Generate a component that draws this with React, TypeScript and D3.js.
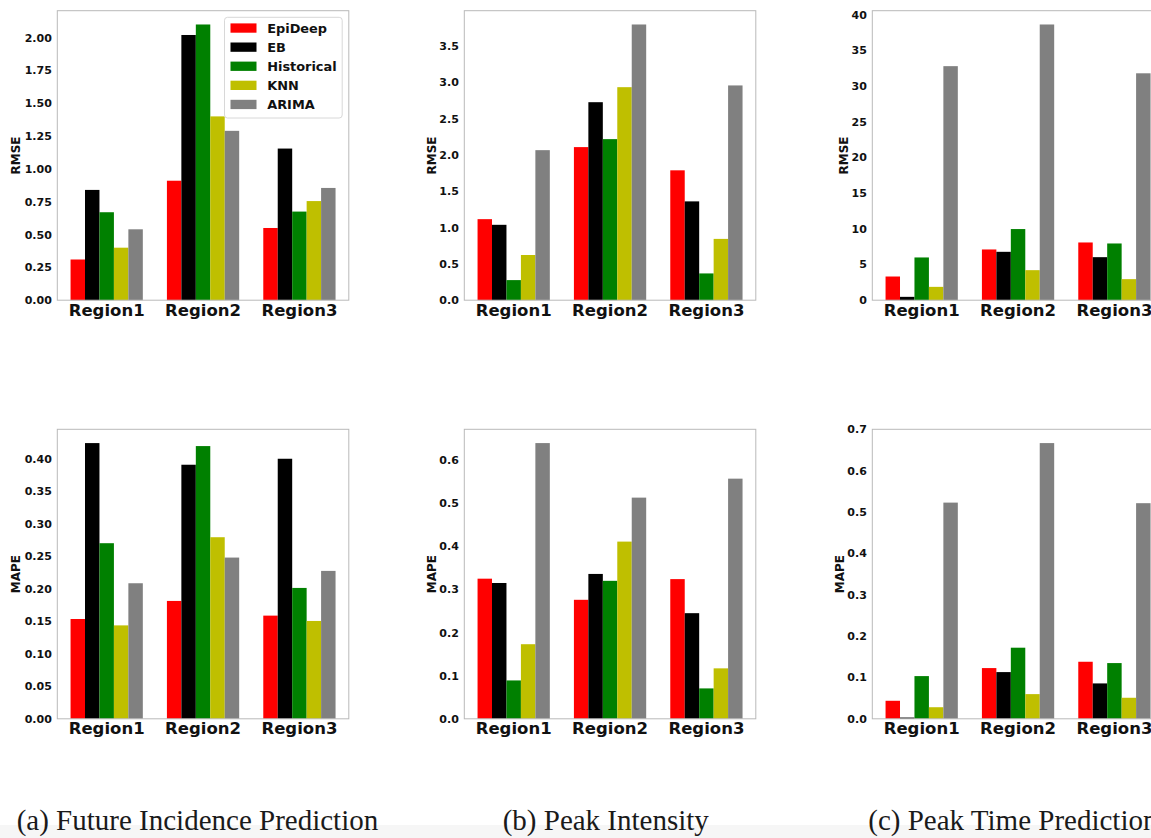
import { useEffect, useRef } from "react";
import * as d3 from "d3";

const methods = ["EpiDeep", "EB", "Historical", "KNN", "ARIMA"];
const methodColors = ["#ff0000", "#000000", "#008000", "#bfbf00", "#808080"];
const regions = ["Region1", "Region2", "Region3"];

// one row per region, columns follow `methods`
const incidenceRmse = [
  [0.31, 0.84, 0.67, 0.4, 0.54],
  [0.91, 2.02, 2.1, 1.4, 1.29],
  [0.55, 1.155, 0.675, 0.755, 0.855],
];
const intensityRmse = [
  [1.117, 1.039, 0.277, 0.623, 2.068],
  [2.11, 2.729, 2.22, 2.936, 3.8],
  [1.79, 1.362, 0.369, 0.845, 2.96],
];
const peakTimeRmse = [
  [3.32, 0.47, 5.99, 1.87, 32.8],
  [7.11, 6.78, 9.97, 4.21, 38.64],
  [8.09, 6.03, 7.95, 2.95, 31.8],
];
const incidenceMape = [
  [0.1535, 0.4241, 0.2701, 0.1437, 0.2085],
  [0.1813, 0.3908, 0.4195, 0.2793, 0.248],
  [0.1587, 0.4, 0.2013, 0.1505, 0.2275],
];
const intensityMape = [
  [0.325, 0.315, 0.089, 0.173, 0.6395],
  [0.276, 0.336, 0.32, 0.411, 0.513],
  [0.324, 0.245, 0.0705, 0.117, 0.557],
];
const peakTimeMape = [
  [0.0436, 0.003, 0.1033, 0.028, 0.523],
  [0.1227, 0.113, 0.172, 0.0597, 0.667],
  [0.138, 0.0856, 0.1348, 0.0509, 0.5216],
];

const captions = [
  "(a) Future Incidence Prediction",
  "(b) Peak Intensity",
  "(c) Peak Time Prediction",
];

const W = 1151;
const H = 838;
const FONT = "'DejaVu Sans', sans-serif";

const colLeft = [57.3, 464.3, 872.3];
const rowTop = [10.7, 429.3];
const axW = 291.5;
const axH = 289.5;
const barW = 0.15;

interface Panel {
  data: number[][];
  label: string;
  step: number;
  fmt: string;
  col: number;
  row: number;
  labelOffset: number;
  legend?: boolean;
}

const panels: Panel[] = [
  { data: incidenceRmse, label: "RMSE", step: 0.25, fmt: ".2f", col: 0, row: 0, labelOffset: 42, legend: true },
  { data: intensityRmse, label: "RMSE", step: 0.5, fmt: ".1f", col: 1, row: 0, labelOffset: 32.6 },
  { data: peakTimeRmse, label: "RMSE", step: 5, fmt: "d", col: 2, row: 0, labelOffset: 28.3 },
  { data: incidenceMape, label: "MAPE", step: 0.05, fmt: ".2f", col: 0, row: 1, labelOffset: 42 },
  { data: intensityMape, label: "MAPE", step: 0.1, fmt: ".1f", col: 1, row: 1, labelOffset: 32.6 },
  { data: peakTimeMape, label: "MAPE", step: 0.1, fmt: ".1f", col: 2, row: 1, labelOffset: 32.3 },
];

const App = () => {
  const ref = useRef<SVGSVGElement>(null);

  useEffect(() => {
    if (!ref.current) return;
    const svg = d3.select(ref.current);
    svg.selectAll("*").remove();

    svg.append("rect").attr("width", W).attr("height", H).attr("fill", "#fff");
    svg
      .append("rect")
      .attr("y", 825)
      .attr("width", W)
      .attr("height", H - 825)
      .attr("fill", "#f6f6f6");

    // matplotlib-style x limits: data span plus 5% margin on each side
    const lo = -barW / 2;
    const hi = regions.length - 1 + (methods.length - 1) * barW + barW / 2;
    const pad = (hi - lo) * 0.05;

    panels.forEach((p) => {
      const left = colLeft[p.col];
      const top = rowTop[p.row];
      const g = svg.append("g");

      const x = d3
        .scaleLinear()
        .domain([lo - pad, hi + pad])
        .range([left, left + axW]);
      const yMax = (d3.max(p.data.flat()) as number) * 1.05;
      const y = d3.scaleLinear().domain([0, yMax]).range([top + axH, top]);

      const bw = x(barW) - x(0);
      p.data.forEach((vals, r) => {
        g.selectAll(null)
          .data(vals)
          .enter()
          .append("rect")
          .attr("x", (_d, j) => x(r + j * barW - barW / 2))
          .attr("y", (d) => y(d))
          .attr("width", bw)
          .attr("height", (d) => y(0) - y(d))
          .attr("fill", (_d, j) => methodColors[j]);
      });

      g.append("rect")
        .attr("x", left)
        .attr("y", top)
        .attr("width", axW)
        .attr("height", axH)
        .attr("fill", "none")
        .attr("stroke", "#b9b9b9")
        .attr("stroke-width", 1);

      const n = Math.floor(yMax / p.step + 1e-6);
      const ticks = d3.range(0, n + 1).map((i) => i * p.step);
      const fmt = d3.format(p.fmt);
      g.selectAll(null)
        .data(ticks)
        .enter()
        .append("text")
        .attr("x", left - 5.5)
        .attr("y", (d) => y(d))
        .attr("dy", "0.36em")
        .attr("text-anchor", "end")
        .attr("font-family", FONT)
        .attr("font-weight", "bold")
        .attr("font-size", 11)
        .attr("fill", "#111")
        .text((d) => fmt(d));

      g.selectAll(null)
        .data(regions)
        .enter()
        .append("text")
        .attr("x", (_d, r) => x(r + ((methods.length - 1) * barW) / 2))
        .attr("y", top + axH + 15.5)
        .attr("text-anchor", "middle")
        .attr("font-family", FONT)
        .attr("font-weight", "bold")
        .attr("font-size", 16.5)
        .attr("fill", "#111")
        .text((d) => d);

      g.append("text")
        .attr(
          "transform",
          `translate(${left - p.labelOffset},${top + axH / 2}) rotate(-90)`,
        )
        .attr("dy", "0.36em")
        .attr("text-anchor", "middle")
        .attr("font-family", FONT)
        .attr("font-weight", "bold")
        .attr("font-size", 12)
        .attr("fill", "#111")
        .text(p.label);

      if (p.legend) {
        const lx = left + axW - 6.6 - 117.7;
        const ly = top + 6.6;
        const leg = g.append("g");
        leg
          .append("rect")
          .attr("x", lx)
          .attr("y", ly)
          .attr("width", 117.7)
          .attr("height", 100.7)
          .attr("rx", 3)
          .attr("fill", "#fff")
          .attr("fill-opacity", 0.85)
          .attr("stroke", "#d8d8d8");
        const item = leg
          .selectAll(null)
          .data(methods)
          .enter()
          .append("g")
          .attr("transform", (_d, i) => `translate(${lx},${ly + 10.7 + i * 19.1})`);
        item
          .append("rect")
          .attr("x", 6)
          .attr("y", -4.6)
          .attr("width", 26)
          .attr("height", 9.3)
          .attr("fill", (_d, i) => methodColors[i]);
        item
          .append("text")
          .attr("x", 42.7)
          .attr("dy", "0.36em")
          .attr("font-family", FONT)
          .attr("font-weight", "bold")
          .attr("font-size", 12.9)
          .attr("fill", "#111")
          .text((d) => d);
      }
    });

    const capX = [16.7, 502.7, 868.3];
    svg
      .selectAll(null)
      .data(captions)
      .enter()
      .append("text")
      .attr("x", (_d, i) => capX[i])
      .attr("y", 830)
      .attr("font-family", "'Liberation Serif', serif")
      .attr("font-size", 29)
      .attr("fill", "#1a1a1a")
      .text((d) => d);
  }, []);

  return (
    <svg
      ref={ref}
      width={W}
      height={H}
      style={{ position: "absolute", left: 0, top: 0, display: "block" }}
    />
  );
};

export default App;
